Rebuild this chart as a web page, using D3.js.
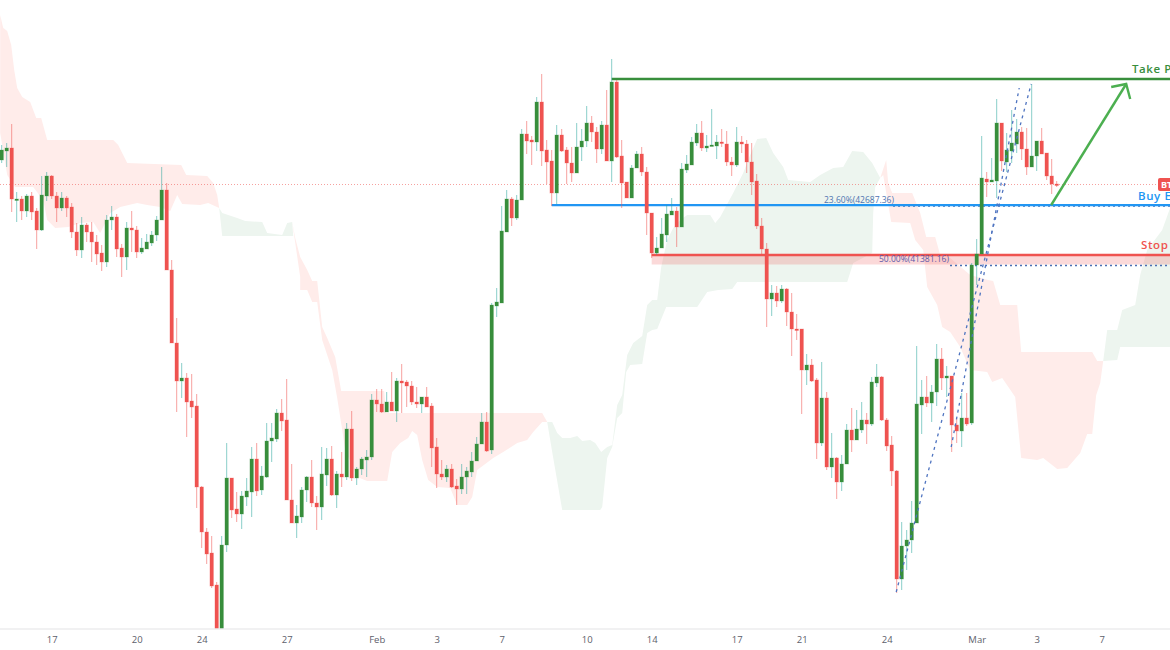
<!DOCTYPE html>
<html lang="en">
<head>
  <meta charset="utf-8">
  <title>BTCUSD 4H</title>
  <script src="https://d3js.org/d3.v7.min.js" charset="utf-8"></script>
<style>
  html, body{ margin: 0; padding: 0; background: white; overflow: hidden; }
  svg{ display: block; font-family: "Open Sans", sans-serif; }
  .xAxis text{ font-size: 9.5px; fill: #5d606b; font-family: "Open Sans", sans-serif; }
  .tradeLabel{ font-size: 11.5px; font-weight: 600; letter-spacing: 0.6px; }
</style>
</head>
<body>
<div id="chart"></div>
<script type="text/javascript">

var opens = [43680,43878,43944,42800,42822,42558,42888,42558,42140,42888,43328,42888,42624,42844,42646,42096,41700,42250,42096,41876,
41634,41436,42360,42426,41744,41546,42184,42140,41656,41722,41854,42030,42360,43020,41260,39654,38818,38884,38378,38268,
36486,35496,35034,34330,33120,35210,36684,36002,35892,36266,36376,37102,36420,36706,37498,37542,38114,37960,36200,35694,
35826,36420,36706,36134,36046,36750,37102,36310,36772,36706,37762,36684,36882,37080,37146,38400,38312,38136,38356,38158,
38818,38796,38708,38356,38312,38466,38268,37366,36772,36706,36882,36508,36442,36706,36816,37058,37432,37916,37300,40468,
40534,42096,42822,42404,42800,44252,44120,44076,44956,43900,43658,42954,44230,43900,43614,43394,43966,44098,44494,44296,
43922,44450,43658,45396,43768,43196,42844,43504,43812,43416,42514,41634,41744,42030,42470,42558,42206,43460,43570,44054,
44274,43944,43988,43988,44076,44032,43636,43570,44076,44032,43636,43218,42228,41722,40622,40754,40578,40842,40336,39962,
39962,39060,39170,38840,37454,38444,36926,37124,36596,36992,37740,37520,37740,37960,37872,38774,38906,37960,37410,36838,
34462,35188,35320,35694,38290,38466,38334,38576,39302,38884,38928,37850,37718,38004,37894,41370,41612,43262,43196,43218,
44494,43636,43878,44032,44296,43922,43526,43768,44098,43834,43328,43152];
var highs = [44010,44054,44472,42976,42888,42932,42976,42624,43328,43416,43350,42976,42976,42888,42734,42294,42426,42294,42316,42030,
41810,42470,42668,42492,41832,42316,42558,42228,41964,42052,42118,42448,43526,43174,41480,40204,39214,38994,38972,38532,
36508,35584,35408,34396,35408,37454,36684,36376,36398,36684,37366,37454,36948,37894,37894,38202,38422,38862,36992,36090,
36486,36728,37080,36288,37366,37344,37388,36838,37256,37894,38158,36926,37146,37300,38532,38642,38642,38576,39016,38884,
39192,38840,38818,38686,38466,38686,38334,37564,37080,36970,36992,36662,36992,36926,37256,37586,38114,38136,40534,40864,
42668,43020,42866,42910,44362,44538,44208,45066,45572,44120,43900,44450,44362,43966,43966,44494,44362,44868,44648,44406,
44538,45220,45902,45440,44120,43196,43570,43878,43966,43526,42514,41986,42404,42690,42844,42646,43614,43790,44186,44472,
44538,44230,44802,44230,44362,44318,43746,44406,44208,44120,44054,43372,42404,41854,40930,40908,40930,40864,40754,40292,
39962,39412,39302,38884,39236,38576,37674,37146,37190,37872,38224,38180,38356,38114,38906,39192,38928,38004,37608,36860,
35716,35540,36178,39588,38840,38928,38730,39632,39544,39148,38928,38004,38554,38554,41414,41942,44208,43416,43724,45022,
44494,44274,44780,44582,44406,44384,45352,44098,44384,43834,43702,43218];
var lows = [43614,43526,42536,42316,42360,42426,42360,41722,42118,42778,42822,42316,42558,42426,41964,41568,41524,41876,41436,41370,
41238,41326,42140,41546,41106,41260,41656,41524,41612,41722,41788,41898,42360,41260,39654,38136,38444,37586,38004,36024,
35144,34792,34264,32900,33010,35056,35804,35716,35562,36068,35826,36288,36310,36684,37036,37476,37718,36200,35694,35364,
35694,36156,36046,35540,35760,36508,36288,36024,36486,36640,36618,36530,36750,36706,37080,38136,38114,38136,38158,37916,
38114,38246,38290,38224,38114,38246,36926,36464,36640,36596,36464,36090,36332,36332,36706,37058,37432,37256,37212,40226,
40534,42096,42228,42360,42800,43812,43570,43878,43548,43152,42668,42712,43856,43152,43196,43394,43658,43966,44076,43614,
43812,43658,43196,43724,42624,42844,42844,43504,43328,42030,41524,41590,41744,41876,42470,41766,42206,43394,43570,43988,
43878,43856,43988,43702,43966,43548,43328,43526,43834,43394,42910,42162,41612,40006,40248,40446,40534,40028,39368,39720,
38092,38730,38796,37102,37388,36860,36684,36222,36398,36992,37256,37520,37674,37432,37828,38686,37938,37278,36508,34154,
34220,34660,35034,35694,37652,38246,37916,38268,38620,38466,37256,37454,37366,37828,37850,40930,41612,42866,43196,42844,
43438,43416,43614,43834,43680,43350,43526,43438,43812,43240,42932,43086];
var closes = [43900,43944,42822,42822,42558,42888,42536,42140,42910,43328,42888,42624,42844,42624,42096,41700,42250,42096,41876,41612,
41436,42360,42426,41722,41546,42184,42140,41656,41744,41876,42030,42360,43020,41260,39654,38818,38884,38356,38246,36486,
35496,35012,34308,33120,35210,36684,35980,35892,36288,36398,37102,36398,36728,37498,37564,38114,37938,36200,35694,35848,
36420,36706,36134,36046,36772,37102,36310,36772,36706,37762,36684,36882,37102,37146,38400,38312,38136,38356,38158,38818,
38774,38708,38356,38312,38466,38246,37344,36772,36706,36882,36486,36442,36706,36838,37058,37432,37916,37278,40490,40556,
42118,42822,42404,42800,44252,44098,44076,44956,43878,43636,42954,44230,43878,43614,43394,43966,44098,44494,44296,43922,
44450,43658,45396,43746,43174,42844,43504,43812,43416,42514,41634,41744,42052,42492,42558,42206,43482,43592,44076,44274,
43944,43988,44010,44076,44054,43636,43570,44076,44032,43636,43196,42228,41722,40622,40754,40578,40842,40336,39962,39940,
39060,39170,38818,37454,38444,36926,37124,36596,36992,37740,37520,37762,37960,37872,38796,38906,37960,37388,36838,34462,
35188,35320,35694,38312,38466,38334,38576,39302,38884,38928,37850,37718,38004,37872,41370,41612,43284,43196,43240,44494,
43658,43900,44054,44296,43922,43526,43768,44098,43812,43328,43152,43130];

var tickIndex = [10,27,40,57,75,87,100,117,130,147,160,177,195,207,220];
var tickLabels = ["17","20","24","27","Feb","3","7","10","14","17","21","24","Mar","3","7"];

// ichimoku cloud edges, [candle index, price]
var cloud1Upper = [[-0.3,46870],[0.3,46584],[1.1,46518],[1.9,46210],[2.5,45660],[3.1,45264],[4.1,45066],[5.7,44956],[6.9,44604],[7.9,44604],[9.1,44120],[22.3,44120],[23.3,44010],[24.3,43790],[25.1,43614],[35.9,43570],[36.9,43350],[41.1,43328],[42.3,43174],[43.1,42910],[43.5,42624]];
var cloud1Lower = [[-0.3,44274],[1.1,43350],[2.7,43086],[6.3,43086],[8.3,42800],[9.1,42360],[10.7,42184],[13.3,42206],[15.7,42294],[18.3,42316],[19.7,42074],[21.7,42514],[23.7,42646],[27.1,42734],[29.1,42690],[31.7,42646],[33.7,42558],[35.1,42910],[36.1,42712],[39.7,42690],[41.3,42734],[43.5,42624]];
var cloud2Upper = [[43.5,42624],[44.1,42514],[47.1,42404],[48.7,42338],[52.1,42316],[53.1,42074],[56.1,42030],[57.1,42294],[58.1,42316]];
var cloud2Lower = [[43.5,42624],[44.1,42008],[58.3,42008],[58.1,42316]];
var cloud3Upper = [[58.1,42316],[58.7,41964],[59.7,41546],[61.1,41260],[62.1,41018],[63.1,41018],[64.1,40006],[65.1,39764],[66.7,39346],[67.9,38598],[76.5,38598],[76.9,38114],[108.1,38114],[109.1,37916]];
var cloud3Lower = [[58.1,42316],[59.7,41106],[59.7,40820],[61.1,40820],[62.1,40556],[63.1,40556],[64.1,39720],[66.1,39060],[67.1,38444],[68.1,37740],[68.7,37300],[71.1,36706],[73.1,36618],[77.1,36618],[78.1,37256],[79.7,37454],[81.3,37564],[82.1,37718],[83.1,37630],[84.1,37080],[85.3,36640],[87.1,36486],[89.7,36464],[91.1,36090],[93.1,36090],[94.1,36266],[95.1,36860],[98.3,37124],[100.3,37256],[103.1,37454],[105.1,37520],[106.3,37696],[108.1,37916],[109.1,37916]];
var cloud4Upper = [[109.1,37916],[110.1,37916],[111.1,37674],[112.1,37564],[113.7,37564],[115.1,37608],[116.1,37498],[117.7,37520],[118.7,37454],[119.9,37256],[121.1,37366],[122.1,37410],[123.1,38290],[124.1,38510],[125.1,39390],[126.3,39654],[128.1,39808],[129.1,40490],[130.1,40600],[131.1,40600],[131.9,41326],[133.1,41920],[134.3,42184],[135.7,42360],[137.1,42470],[141.7,42470],[142.7,42294],[143.7,42426],[146.3,42954],[148.3,43394],[149.7,43790],[151.1,44142],[152.9,44164],[154.3,43834],[156.3,43526],[157.3,43240],[161.7,43196],[163.7,43350],[166.3,43504],[168.3,43526],[170.1,43878],[172.3,43856],[174.1,43614],[175.7,43284]];
var cloud4Lower = [[109.1,37916],[110.1,37256],[112.1,35980],[119.7,35980],[120.1,36046],[121.1,37124],[122.1,37366],[123.1,38004],[124.1,38114],[124.9,39016],[125.7,39170],[128.1,39192],[129.1,39874],[130.1,39940],[131.1,39962],[132.9,40446],[139.1,40446],[141.1,40776],[143.3,40820],[146.1,40842],[147.1,40996],[169.1,40996],[170.3,41414],[174.1,41634],[174.3,42514],[174.7,43086],[175.7,43284]];
var cloud5Upper = [[175.7,43284],[176.9,43680],[177.3,43174],[178.1,42954],[182.1,42954],[183.7,42514],[184.9,41986],[186.7,41986],[187.7,41590],[189.7,41524],[193.7,41150],[197.3,41040],[198.3,41018],[199.7,40490],[203.1,40490],[203.9,39456],[218.1,39456],[219.1,39258],[220.3,39258]];
var cloud5Lower = [[175.7,43284],[176.3,43350],[177.9,42316],[181.7,42294],[182.7,41920],[184.3,41700],[185.1,40886],[187.1,40490],[188.1,40006],[189.7,39896],[191.7,39566],[193.7,39060],[197.1,39016],[198.1,38796],[200.1,38884],[202.7,38466],[203.9,37124],[207.1,37080],[208.3,37124],[211.1,36882],[213.1,36904],[215.7,37234],[217.1,37652],[218.1,37652],[218.9,38510],[219.7,38774],[220.3,39258]];
var cloud6Upper = [[220.3,39258],[221.1,39940],[223.1,39940],[224.1,40380],[226.7,40490],[227.7,41150],[229.1,41700],[232.1,42140],[233.9,42690]];
var cloud6Lower = [[220.3,39258],[223.1,39280],[223.7,39566],[233.9,39566]];

var takeProfit = 45462, buyEntry = 42687.36, stopLoss = 41590, fib50 = 41381.16, lastPrice = 43141;
var fibLineA = [[178.9,34176],[205.9,45352]];
var fibLineB = [[189.9,37366],[203.5,45264]];
var arrowShaft = [[209.9,42690],[224.9,45352]];
var arrowHead = [[221.9,45286],[224.9,45352],[225.7,45022]];

var width = 1170, height = 650, plotBottom = 629;
var green = "#388e3c", red = "#ef5350", cloudRed = "#ffecea", cloudGreen = "#edf5ef";

var x = d3.scaleLinear().domain([0,211]).range([1.7,1056.7]);
var y = d3.scaleLinear().domain([47200,32900]).range([0,650]);

var svg = d3.select("#chart").append("svg").attr("width",width).attr("height",height);
svg.append("clipPath").attr("id","plotClip").append("rect")
  .attr("x",0).attr("y",0).attr("width",width).attr("height",plotBottom);

var plot = svg.append("g").attr("clip-path","url(#plotClip)");

var edge = d3.line().x(function(d){ return x(d[0]); }).y(function(d){ return y(d[1]); });

function drawCloud(upper, lower, color){
  plot.append("path")
    .attr("d", edge(upper.concat(lower.slice().reverse())) + "Z")
    .attr("fill", color);
}
drawCloud(cloud1Upper, cloud1Lower, cloudRed);
drawCloud(cloud2Upper, cloud2Lower, cloudGreen);
drawCloud(cloud3Upper, cloud3Lower, cloudRed);
drawCloud(cloud4Upper, cloud4Lower, cloudGreen);
drawCloud(cloud5Upper, cloud5Lower, cloudRed);
drawCloud(cloud6Upper, cloud6Lower, cloudGreen);

// stop loss band
plot.append("rect")
  .attr("x",x(130)).attr("width",width-x(130))
  .attr("y",y(stopLoss)).attr("height",y(fib50)-y(stopLoss))
  .attr("fill",red).attr("opacity",0.22);

// last price line
plot.append("line")
  .attr("x1",0).attr("x2",width-12).attr("y1",y(lastPrice)).attr("y2",y(lastPrice))
  .attr("stroke",red).attr("stroke-opacity",0.55).attr("stroke-width",1).attr("stroke-dasharray","1,2");

// fib levels
function fibLevel(price, fromX){
  plot.append("line")
    .attr("x1",fromX).attr("x2",width).attr("y1",y(price)+1).attr("y2",y(price)+1)
    .attr("stroke","#4a6fb5").attr("stroke-width",1.4).attr("stroke-dasharray","2,3");
}
fibLevel(buyEntry, 893);
fibLevel(fib50, 950);

// trade levels
function tradeLine(price, fromIndex, color){
  plot.append("line")
    .attr("x1",x(fromIndex)).attr("x2",width).attr("y1",y(price)).attr("y2",y(price))
    .attr("stroke",color).attr("stroke-width",2.4);
}
tradeLine(takeProfit, 122, green);
tradeLine(buyEntry, 110, "#2196f3");
tradeLine(stopLoss, 130, red);

// candles
var candles = opens.map(function(o,i){
  return {i:i, open:o, high:highs[i], low:lows[i], close:closes[i]};
});
var candle = plot.selectAll(".candle").data(candles).enter().append("g").attr("class","candle");

candle.append("line")
  .attr("x1",function(d){ return x(d.i); }).attr("x2",function(d){ return x(d.i); })
  .attr("y1",function(d){ return y(d.high); }).attr("y2",function(d){ return y(d.low); })
  .attr("stroke",function(d){ return d.close>=d.open ? "#26a69a" : red; })
  .attr("stroke-opacity",0.55).attr("stroke-width",1);

candle.append("rect")
  .attr("x",function(d){ return x(d.i)-1.75; }).attr("width",3.5)
  .attr("y",function(d){ return y(Math.max(d.open,d.close)); })
  .attr("height",function(d){ return Math.max(1.5, Math.abs(y(d.open)-y(d.close))); })
  .attr("fill",function(d){ return d.close>=d.open ? green : red; })
  .attr("stroke",function(d){ return d.close>=d.open ? green : red; })
  .attr("stroke-opacity",0.25).attr("stroke-width",1);

// dashed fib trend lines
[fibLineA, fibLineB].forEach(function(pts){
  plot.append("path").attr("d",edge(pts)).attr("fill","none")
    .attr("stroke","#4f74c0").attr("stroke-width",1.3).attr("stroke-dasharray","3,4");
});

// arrow
plot.append("path").attr("d",edge(arrowShaft)).attr("fill","none")
  .attr("stroke","#4caf50").attr("stroke-width",2.4);
plot.append("path").attr("d",edge(arrowHead)).attr("fill","none")
  .attr("stroke","#4caf50").attr("stroke-width",2.4);

// labels
function tradeLabel(txt, xPos, yPos, color){
  svg.append("text").attr("class","tradeLabel").attr("x",xPos).attr("y",yPos).attr("fill",color).text(txt);
}
tradeLabel("Take Profit", 1132, 73, "#388e3c");
tradeLabel("Buy Entry", 1138, 200, "#2196f3");
tradeLabel("Stop Loss", 1141, 249, "#ef5350");

function fibLabel(txt, xPos, price, color){
  svg.append("text").attr("x",xPos).attr("y",y(price)-2).attr("fill",color)
    .attr("font-size","8.5px").text(txt);
}
fibLabel("23.60%(42687.36)", 824, buyEntry, "#4f74b0");
fibLabel("50.00%(41381.16)", 879, fib50, "#5f5aa8");

svg.append("rect").attr("x",1158).attr("y",y(lastPrice)-6.5).attr("width",14).attr("height",13)
  .attr("rx",2).attr("fill",red);
svg.append("text").attr("x",1161).attr("y",y(lastPrice)+3.5).attr("fill","white")
  .attr("font-size","9px").attr("font-weight",700).text("BTCUSD");

// time axis
svg.append("line").attr("x1",0).attr("x2",width).attr("y1",plotBottom).attr("y2",plotBottom)
  .attr("stroke","#ececee").attr("stroke-width",1.5);

var xAxis = d3.axisBottom(x).tickValues(tickIndex).tickSize(0).tickPadding(7)
  .tickFormat(function(d,i){ return tickLabels[i]; });
svg.append("g").attr("class","xAxis").attr("transform","translate(0,"+plotBottom+")").call(xAxis)
  .select(".domain").remove();

</script>
</body>
</html>
